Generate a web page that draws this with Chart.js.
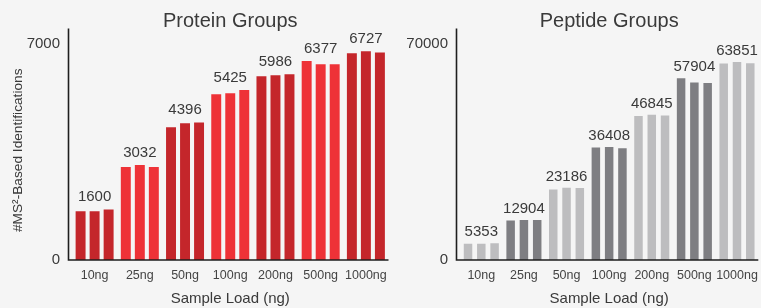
<!DOCTYPE html>
<html>
<head>
<meta charset="utf-8">
<script src="https://cdn.jsdelivr.net/npm/chart.js@4.4.1/dist/chart.umd.min.js"></script>
<style>
  html, body { margin: 0; padding: 0; }
  body { width: 761px; height: 308px; background: #f5f5f5; position: relative; overflow: hidden; }
  .box { position: absolute; top: 0; height: 308px; }
  #proteinBox { left: 0; width: 390px; }
  #peptideBox { left: 390px; width: 371px; }
</style>
</head>
<body>
<div class="box" id="proteinBox"><canvas id="proteinChart"></canvas></div>
<div class="box" id="peptideBox"><canvas id="peptideChart"></canvas></div>
<script>
// Sample loads (x categories)
const loads = ["10ng", "25ng", "50ng", "100ng", "200ng", "500ng", "1000ng"];

// Protein groups, three replicate injections per load
const proteinRep1 = [1580, 3010, 4300, 5370, 5955, 6445, 6695];
const proteinRep2 = [1580, 3075, 4430, 5400, 5985, 6343, 6760];
const proteinRep3 = [1640, 3010, 4458, 5505, 6018, 6343, 6726];
const proteinMeans = [1600, 3032, 4396, 5425, 5986, 6377, 6727];
const proteinTicks = [0, 7000];

// Peptide groups, three replicate injections per load
const peptideRep1 = [5300, 12800, 22850, 36450, 46650, 58850, 63700];
const peptideRep2 = [5300, 12956, 23400, 36600, 47050, 57500, 64150];
const peptideRep3 = [5460, 12956, 23308, 36174, 46835, 57362, 63703];
const peptideMeans = [5353, 12904, 23186, 36408, 46845, 57904, 63851];
const peptideTicks = [0, 70000];

const FONT = "'Liberation Sans', Arial, Helvetica, sans-serif";
const TEXT = "#3a3a3a";

// title, axis lines and the mean value above each group
const decorPlugin = {
    id: "decor",
    afterDatasetsDraw(chart, args, opts) {
        const { ctx, chartArea } = chart;
        const x = chart.scales.x, y = chart.scales.y;
        ctx.save();
        ctx.fillStyle = TEXT;
        ctx.textAlign = "center";
        ctx.textBaseline = "alphabetic";
        ctx.font = "20px " + FONT;
        ctx.fillText(opts.title, (chartArea.left + chartArea.right) / 2, 27);

        const ax = chartArea.left - 3.5;
        const y0 = y.getPixelForValue(0);
        ctx.strokeStyle = "#1e1e1e";
        ctx.lineWidth = 1.6;
        ctx.beginPath();
        ctx.moveTo(ax, y.top);
        ctx.lineTo(ax, y0);
        ctx.lineTo(chartArea.right, y0);
        ctx.stroke();

        ctx.font = "15px " + FONT;
        opts.means.forEach((m, i) => {
            const top = Math.max(...chart.data.datasets.map(d => d.data[i]));
            ctx.fillText(String(m), x.getPixelForValue(i), y.getPixelForValue(top) - opts.gap);
        });

        // y axis title sits a little below the middle of the axis
        if (opts.yTitle) {
            ctx.font = "13.7px " + FONT;
            ctx.translate(18, (y.top + y.bottom) / 2 + 6);
            ctx.rotate(-Math.PI / 2);
            ctx.textBaseline = "middle";
            ctx.fillText(opts.yTitle, 0, 0);
        }
        ctx.restore();
    }
};

function makeChart(id, reps, colors, cfg) {
    const ctx = document.getElementById(id).getContext("2d");
    return new Chart(ctx, {
        type: "bar",
        data: {
            labels: loads,
            datasets: reps.map((r, k) => ({
                label: "Replicate " + (k + 1),
                data: r,
                backgroundColor: loads.map((_, i) => colors[i % 2]),
                categoryPercentage: cfg.catPct,
                barPercentage: cfg.barPct,
            })),
        },
        options: {
            responsive: true,
            maintainAspectRatio: false,
            animation: false,
            layout: { padding: { top: 28.5, right: cfg.padRight, bottom: 0, left: 0 } },
            plugins: {
                legend: { display: false },
                tooltip: { enabled: false },
                decor: { title: cfg.title, means: cfg.means, gap: cfg.gap, yTitle: cfg.yTitle },
            },
            scales: {
                x: {
                    grid: { display: false, drawTicks: false },
                    border: { display: false },
                    ticks: {
                        color: "#444",
                        padding: 8,
                        maxRotation: 0,
                        minRotation: 0,
                        autoSkip: false,
                        font: { family: FONT, size: 12.5 },
                    },
                    title: {
                        display: true,
                        text: "Sample Load (ng)",
                        color: TEXT,
                        padding: { top: 0, bottom: 0 },
                        font: { family: FONT, size: 15 },
                    },
                    afterFit: s => {
                        s.height = 48;
                        s.paddingLeft = 0;
                        s.paddingRight = 0;
                    },
                },
                y: {
                    min: 0,
                    max: cfg.max,
                    grid: { display: false, drawTicks: false },
                    border: { display: false },
                    afterBuildTicks: s => { s.ticks = cfg.ticks.map(v => ({ value: v })); },
                    ticks: {
                        color: TEXT,
                        padding: 12,
                        font: { family: FONT, size: 15 },
                        callback: v => String(v),
                    },
                    afterFit: s => { s.width = cfg.yWidth; },
                },
            },
        },
        plugins: [decorPlugin],
    });
}

makeChart("proteinChart", [proteinRep1, proteinRep2, proteinRep3], ["#c4262b", "#ee3237"], {
    title: "Protein Groups",
    means: proteinMeans,
    ticks: proteinTicks,
    max: 7500,
    yTitle: "#MS\u00b2-Based Identifications",
    yWidth: 72,
    padRight: 1.5,
    catPct: 0.93,
    barPct: 0.71,
    gap: 8,
});

makeChart("peptideChart", [peptideRep1, peptideRep2, peptideRep3], ["#bdbdbf", "#7e7e82"], {
    title: "Peptide Groups",
    means: peptideMeans,
    ticks: peptideTicks,
    max: 75000,
    yTitle: "",
    yWidth: 70,
    padRight: 2.7,
    catPct: 0.935,
    barPct: 0.64,
    gap: 7,
});
</script>
</body>
</html>
